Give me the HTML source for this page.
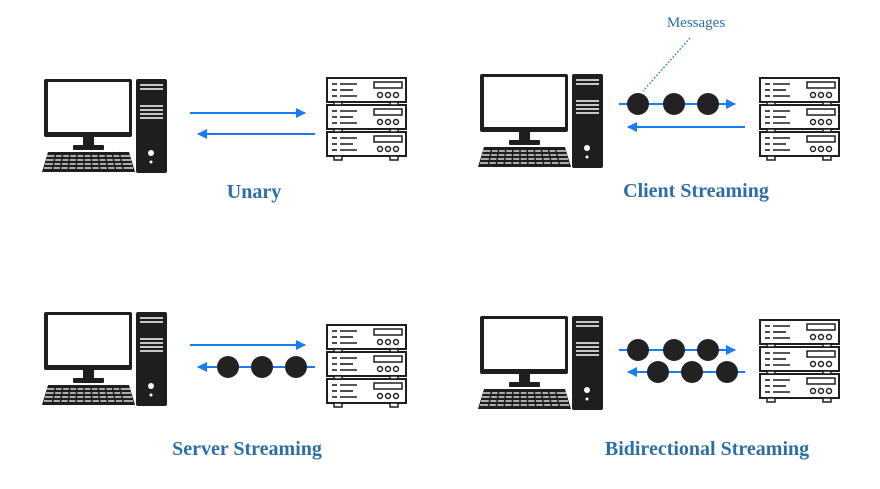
<!DOCTYPE html>
<html><head><meta charset="utf-8"><style>
html,body{margin:0;padding:0;background:#fff;width:880px;height:489px;overflow:hidden}
text{font-family:"Liberation Serif",serif}
</style></head><body>
<svg width="880" height="489" viewBox="0 0 880 489" xmlns="http://www.w3.org/2000/svg">
<defs>
<g id="pc">
  <rect x="44" y="79" width="88" height="58" rx="2" fill="#1e1e1e"/>
  <rect x="48" y="82" width="81" height="50" fill="#fff"/>
  <rect x="83" y="137" width="11" height="9" fill="#1e1e1e"/>
  <rect x="73" y="145" width="31" height="5" rx="1" fill="#1e1e1e"/>
  <polygon points="48,152 129,152 135,172 42,172" fill="#1e1e1e"/>
  <g stroke="#fff" stroke-width="1.3">
    <line x1="47" y1="156" x2="130" y2="156"/>
    <line x1="46" y1="160" x2="131" y2="160"/>
    <line x1="45" y1="164" x2="132" y2="164"/>
    <line x1="44" y1="168" x2="133" y2="168"/>
  </g>
  <g stroke="#1e1e1e" stroke-width="1.5">
    <line x1="56" y1="152" x2="52" y2="172"/><line x1="63" y1="152" x2="60" y2="172"/>
    <line x1="70" y1="152" x2="68" y2="172"/><line x1="77" y1="152" x2="76" y2="172"/>
    <line x1="84" y1="152" x2="84" y2="172"/><line x1="91" y1="152" x2="92" y2="172"/>
    <line x1="98" y1="152" x2="100" y2="172"/><line x1="105" y1="152" x2="108" y2="172"/>
    <line x1="112" y1="152" x2="116" y2="172"/><line x1="119" y1="152" x2="124" y2="172"/>
  </g>
  <rect x="136" y="79" width="31" height="94" rx="2" fill="#1e1e1e"/>
  <g stroke="#fff" stroke-width="1.5">
    <line x1="140" y1="85" x2="163" y2="85"/><line x1="140" y1="89" x2="163" y2="89"/>
    <line x1="140" y1="106" x2="163" y2="106"/><line x1="140" y1="110" x2="163" y2="110"/>
    <line x1="140" y1="114" x2="163" y2="114"/><line x1="140" y1="118" x2="163" y2="118"/>
  </g>
  <circle cx="151" cy="153" r="3" fill="#fff"/>
  <circle cx="151" cy="162" r="1.5" fill="#fff"/>
</g>
<g id="unit">
  <rect x="0" y="0" width="79" height="24" fill="#fff" stroke="#1e1e1e" stroke-width="2"/>
  <g stroke="#1e1e1e" stroke-width="1.6">
    <line x1="5" y1="6" x2="10" y2="6"/><line x1="13" y1="6" x2="30" y2="6"/>
    <line x1="5" y1="12" x2="10" y2="12"/><line x1="13" y1="12" x2="26" y2="12"/>
    <line x1="5" y1="18" x2="10" y2="18"/><line x1="13" y1="18" x2="30" y2="18"/>
  </g>
  <rect x="47" y="4" width="28" height="6" fill="#fff" stroke="#1e1e1e" stroke-width="1.5"/>
  <g fill="#fff" stroke="#1e1e1e" stroke-width="1.4">
    <circle cx="53" cy="17" r="2.5"/><circle cx="61" cy="17" r="2.5"/><circle cx="69" cy="17" r="2.5"/>
  </g>
</g>
<g id="srv">
  <use href="#unit" x="327" y="78"/>
  <use href="#unit" x="327" y="105"/>
  <use href="#unit" x="327" y="132"/>
  <g fill="#fff" stroke="#1e1e1e" stroke-width="1.5">
    <rect x="334" y="102" width="8" height="3"/><rect x="390" y="102" width="8" height="3"/>
    <rect x="334" y="129" width="8" height="3"/><rect x="390" y="129" width="8" height="3"/>
    <rect x="334" y="156" width="8" height="4"/><rect x="390" y="156" width="8" height="4"/>
  </g>
</g>
<marker id="ah" viewBox="0 0 10 10" refX="9" refY="5" markerWidth="10" markerHeight="10" markerUnits="userSpaceOnUse" orient="auto">
  <path d="M0,0 L10,5 L0,10 z" fill="#1a7cf5"/>
</marker>
</defs>

<!-- Unary -->
<use href="#pc"/>
<use href="#srv"/>
<g stroke="#1a7cf5" stroke-width="2" marker-end="url(#ah)">
  <line x1="190" y1="113" x2="305" y2="113"/>
  <line x1="315" y1="134" x2="198" y2="134"/>
</g>
<text x="254" y="198" text-anchor="middle" font-size="20" font-weight="bold" fill="#2e6ea6">Unary</text>

<!-- Client streaming -->
<use href="#pc" x="436" y="-5"/>
<use href="#srv" x="433" y="0"/>
<g stroke="#1a7cf5" stroke-width="2" marker-end="url(#ah)">
  <line x1="619" y1="104" x2="735" y2="104"/>
  <line x1="745" y1="127" x2="628" y2="127"/>
</g>
<g fill="#222"><circle cx="638" cy="104" r="11"/><circle cx="674" cy="104" r="11"/><circle cx="708" cy="104" r="11"/></g>
<line x1="690" y1="38" x2="643" y2="91" stroke="#1a7cf5" stroke-width="1.5" stroke-dasharray="1.5,2"/>
<text x="696" y="27" text-anchor="middle" font-size="15" fill="#2e6ea6">Messages</text>
<text x="696" y="197" text-anchor="middle" font-size="20" font-weight="bold" fill="#2e6ea6">Client Streaming</text>

<!-- Server streaming -->
<use href="#pc" x="0" y="233"/>
<use href="#srv" x="0" y="247"/>
<g stroke="#1a7cf5" stroke-width="2" marker-end="url(#ah)">
  <line x1="190" y1="345" x2="305" y2="345"/>
  <line x1="315" y1="367" x2="198" y2="367"/>
</g>
<g fill="#222"><circle cx="228" cy="367" r="11"/><circle cx="262" cy="367" r="11"/><circle cx="296" cy="367" r="11"/></g>
<text x="247" y="455" text-anchor="middle" font-size="20" font-weight="bold" fill="#2e6ea6">Server Streaming</text>

<!-- Bidirectional -->
<use href="#pc" x="436" y="237"/>
<use href="#srv" x="433" y="242"/>
<g stroke="#1a7cf5" stroke-width="2" marker-end="url(#ah)">
  <line x1="619" y1="350" x2="735" y2="350"/>
  <line x1="745" y1="372" x2="628" y2="372"/>
</g>
<g fill="#222"><circle cx="638" cy="350" r="11"/><circle cx="674" cy="350" r="11"/><circle cx="708" cy="350" r="11"/>
<circle cx="658" cy="372" r="11"/><circle cx="692" cy="372" r="11"/><circle cx="727" cy="372" r="11"/></g>
<text x="707" y="455" text-anchor="middle" font-size="20" font-weight="bold" fill="#2e6ea6">Bidirectional Streaming</text>
</svg>
</body></html>
